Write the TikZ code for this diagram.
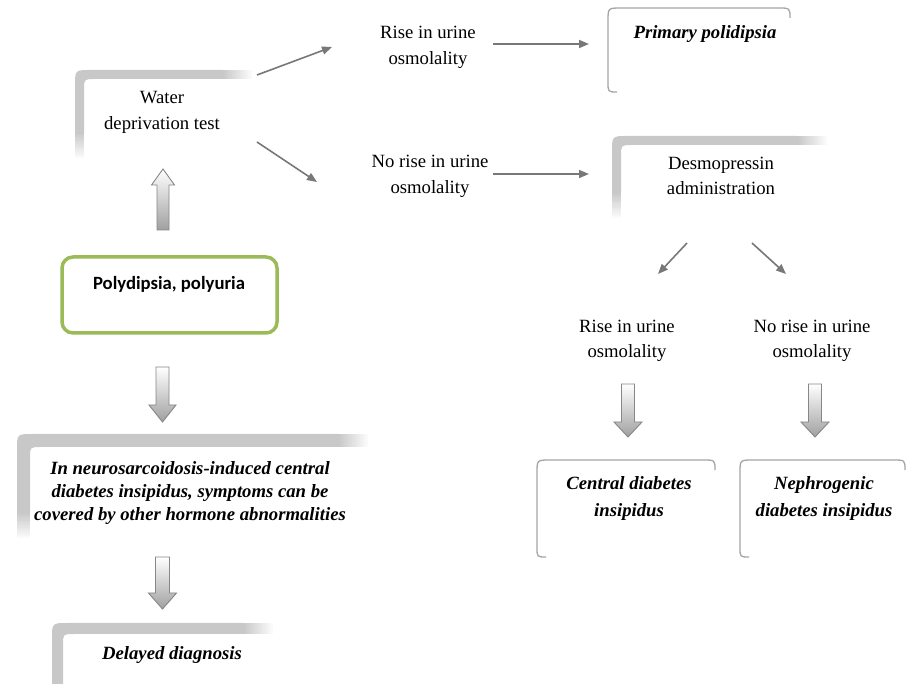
\documentclass[tikz,border=0pt]{standalone}
\usepackage{fontspec}
\setmainfont{Liberation Serif}
\newfontfamily\calfont{Carlito}
\usetikzlibrary{arrows.meta}
\definecolor{bandgray}{RGB}{200,200,200}
\definecolor{linegray}{RGB}{165,165,165}
\definecolor{arrgray}{RGB}{120,120,120}
\definecolor{polygreen}{RGB}{155,187,89}
\definecolor{blockedge}{RGB}{135,135,135}
\definecolor{blockfill}{RGB}{160,160,160}

% L T R B thickness
\newcommand\thickbracket[5]{%
  \fill[bandgray] (#1,#4-26) -- (#1,#2+16) .. controls (#1,#2) .. (#1+16,#2) -- (#3-30,#2) -- (#3-30,#2+#5)
     -- (#1+#5+11,#2+#5) .. controls (#1+#5,#2+#5) .. (#1+#5,#2+#5+11) -- (#1+#5,#4-26) -- cycle;
  \foreach \i in {0,...,14}{%
    \pgfmathsetmacro\pc{100-6.5*\i}%
    \fill[bandgray!\pc!white] (#3-30+2*\i-0.2,#2) rectangle (#3-28+2*\i,#2+#5);
    \fill[bandgray!\pc!white] (#1,#4-26+1.75*\i-0.2) rectangle (#1+#5,#4-24.25+1.75*\i);
  }%
}
% L T R B
\newcommand\thinbracket[4]{%
  \draw[linegray,line width=1.3pt] (#1+9,#4) .. controls (#1,#4) .. (#1,#4-10) -- (#1,#2+13)
     .. controls (#1,#2) .. (#1+13,#2) -- (#3-12,#2) .. controls (#3,#2) .. (#3,#2+10);
}
% cx top headbase tip shafthw headhw
\newcommand\downblock[6]{%
  \path[draw=blockedge,line width=0.9pt,line join=miter,top color=white,bottom color=blockfill]
    (#1-#5,#2) -- (#1+#5,#2) -- (#1+#5,#3) -- (#1+#6,#3) -- (#1,#4) -- (#1-#6,#3) -- (#1-#5,#3) -- cycle;
}
% cx bottom headbase tip shafthw headhw
\newcommand\upblock[6]{%
  \path[draw=blockedge,line width=0.9pt,line join=miter,top color=white,bottom color=blockfill]
    (#1-#5,#2) -- (#1+#5,#2) -- (#1+#5,#3) -- (#1+#6,#3) -- (#1,#4) -- (#1-#6,#3) -- (#1-#5,#3) -- cycle;
}

\tikzset{
  lab/.style={align=center,inner sep=0pt,yshift=-2pt,font=\fontsize{18.7}{25.5}\selectfont},
  labbi/.style={align=center,inner sep=0pt,yshift=-2pt,font=\fontsize{18.7}{26.5}\selectfont\bfseries\itshape},
  labcal/.style={inner sep=0pt,yshift=-1pt,font=\calfont\fontsize{18.7}{22}\selectfont\bfseries},
  conn/.style={draw=arrgray,line width=1.6pt,-{Triangle[length=10pt,width=8pt]}},
  greenbox/.style={draw=polygreen,line width=3.5pt,rounded corners=11pt}
}

\begin{document}
\begin{tikzpicture}[x=1pt,y=-1pt]
\useasboundingbox[fill=white] (0,0) rectangle (906,684);

% bracket boxes
\thickbracket{75}{70}{252}{158}{9}
\thickbracket{612}{136}{827}{218}{9}
\thickbracket{17}{434}{368}{538}{13}
\thickbracket{52}{623}{273}{710}{11}
\thinbracket{608}{8}{790}{92}
\thinbracket{537}{460}{715}{557}
\thinbracket{740}{460}{905}{557}

% green box
\draw[greenbox] (62,257) rectangle (277,333);

% text nodes
\node[lab] (water) at (162,110.5) {Water\\deprivation test};
\node[lab] (rise1) at (428,45.5) {Rise in urine\\osmolality};
\node[lab] (norise1) at (430,174.5) {No rise in urine\\osmolality};
\node[labbi] (primary) at (705,32) {Primary polidipsia};
\node[lab] (desmo) at (721,174) {Desmopressin\\administration};
\node[labcal] (poly) at (169,283) {Polydipsia, polyuria};
\node[labbi,font=\fontsize{18.7}{23}\selectfont\bfseries\itshape] (neuro) at (190,491) {In neurosarcoidosis-induced central\\diabetes insipidus, symptoms can be\\covered by other hormone abnormalities};
\node[labbi] (delayed) at (172,653) {Delayed diagnosis};
\node[lab] (rise2) at (627,339) {Rise in urine\\osmolality};
\node[lab] (norise2) at (812,339) {No rise in urine\\osmolality};
\node[labbi] (central) at (629,496.5) {Central diabetes\\insipidus};
\node[labbi] (nephro) at (824,496.5) {Nephrogenic\\diabetes insipidus};

% line arrows
\coordinate (a1s) at (257,75);  \coordinate (a1e) at (332,47);
\coordinate (a2s) at (257,142); \coordinate (a2e) at (317,182);
\coordinate (a3s) at (493,44);  \coordinate (a3e) at (589,44);
\coordinate (a4s) at (493,174); \coordinate (a4e) at (589,174);
\coordinate (a5s) at (687,243); \coordinate (a5e) at (658,274);
\coordinate (a6s) at (752,243); \coordinate (a6e) at (786,274);
\draw[conn] (a1s) -- (a1e);
\draw[conn] (a2s) -- (a2e);
\draw[conn] (a3s) -- (a3e);
\draw[conn] (a4s) -- (a4e);
\draw[conn] (a5s) -- (a5e);
\draw[conn] (a6s) -- (a6e);

% block arrows
\upblock{163}{230}{185}{169}{6}{11.5}
\downblock{162.5}{367}{405}{422}{6.5}{13.5}
\downblock{162.5}{557}{593}{609}{7}{14}
\downblock{628}{384}{422}{437}{6.5}{14}
\downblock{815}{384}{422}{437}{6.5}{14}
\end{tikzpicture}
\end{document}
